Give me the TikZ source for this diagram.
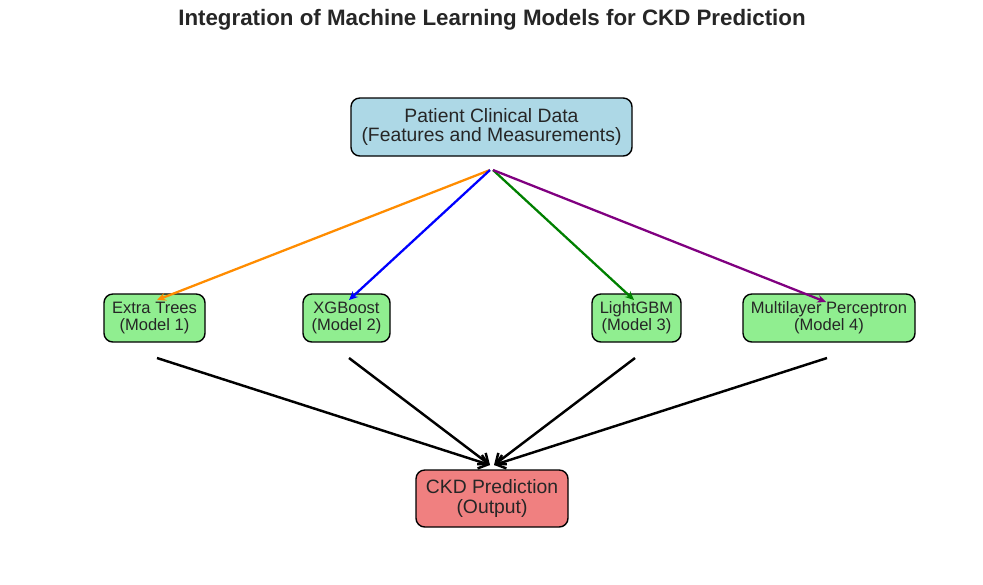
\documentclass[tikz,border=0pt]{standalone}
\usepackage{fontspec}
\setmainfont{Liberation Sans}
\definecolor{txtgray}{gray}{0.15}
\definecolor{boxblue}{RGB}{173,216,230}
\definecolor{boxgreen}{RGB}{144,238,144}
\definecolor{boxred}{RGB}{240,128,128}
\definecolor{arrorange}{RGB}{255,140,0}
\definecolor{arrgreen}{RGB}{0,128,0}
\definecolor{arrpurple}{RGB}{128,0,128}
\usetikzlibrary{arrows.meta,calc}
\tikzset{
    databox/.style={draw, line width=0.8pt, rounded corners=5pt, fill=boxblue, text=txtgray,
        align=center, minimum width=5.62cm, minimum height=1.16cm, inner sep=0pt,
        font=\fontsize{11}{10.8}\selectfont},
    modelbox/.style={draw, line width=0.8pt, rounded corners=5pt, fill=boxgreen, text=txtgray,
        align=center, minimum height=0.96cm, inner sep=0pt,
        font=\fontsize{9.4}{9.6}\selectfont},
    outbox/.style={draw, line width=0.8pt, rounded corners=5pt, fill=boxred, text=txtgray,
        align=center, minimum width=3.04cm, minimum height=1.14cm, inner sep=0pt,
        font=\fontsize{11}{11.8}\selectfont},
    feed/.style={line width=1.3pt, -{Stealth[length=5pt,width=4.5pt]}},
    merge/.style={line width=1.4pt, black, -{Straight Barb[length=5pt,width=8pt]}}
}
\begin{document}
\begin{tikzpicture}
    \useasboundingbox (0,0) rectangle (19.66,-11.68);
    %titolo
    \node (title) at (9.84,-0.40) {\fontsize{12.7}{14}\selectfont\bfseries\color{txtgray}Integration of Machine Learning Models for CKD Prediction};
    %riquadri
    \node[databox] (data) at (9.83,-2.54) {Patient Clinical Data\\(Features and Measurements)};
    \node[modelbox, minimum width=2.02cm] (et) at (3.09,-6.36) {Extra Trees\\(Model 1)};
    \node[modelbox, minimum width=1.74cm] (xgb) at (6.93,-6.36) {XGBoost\\(Model 2)};
    \node[modelbox, minimum width=1.78cm] (lgbm) at (12.73,-6.36) {LightGBM\\(Model 3)};
    \node[modelbox, minimum width=3.44cm] (mlp) at (16.58,-6.36) {Multilayer Perceptron\\(Model 4)};
    \node[outbox] (ckd) at (9.84,-9.97) {\raisebox{-1.5pt}{CKD Prediction}\\\raisebox{-1.5pt}{(Output)}};
    %punti di aggancio
    \coordinate (srcl) at (9.80,-3.40);
    \coordinate (srcr) at (9.86,-3.40);
    \coordinate (etin) at ($(et.center)+(0.05,0.36)$);
    \coordinate (xgbin) at ($(xgb.center)+(0.05,0.36)$);
    \coordinate (lgbmin) at ($(lgbm.center)+(-0.05,0.36)$);
    \coordinate (mlpin) at ($(mlp.center)+(-0.06,0.32)$);
    \coordinate (etout) at (3.14,-7.16);
    \coordinate (xgbout) at (6.98,-7.16);
    \coordinate (lgbmout) at (12.70,-7.16);
    \coordinate (mlpout) at (16.54,-7.16);
    \coordinate (ckdl) at (9.80,-9.30);
    \coordinate (ckdr) at (9.88,-9.30);
    %frecce in ingresso
    \draw[feed, arrorange] (srcl) -- (etin);
    \draw[feed, blue] (srcl) -- (xgbin);
    \draw[feed, arrgreen] (srcr) -- (lgbmin);
    \draw[feed, arrpurple] (srcr) -- (mlpin);
    %frecce in uscita
    \draw[merge] (etout) -- (ckdl);
    \draw[merge] (xgbout) -- (ckdl);
    \draw[merge] (lgbmout) -- (ckdr);
    \draw[merge] (mlpout) -- (ckdr);
\end{tikzpicture}
\end{document}
